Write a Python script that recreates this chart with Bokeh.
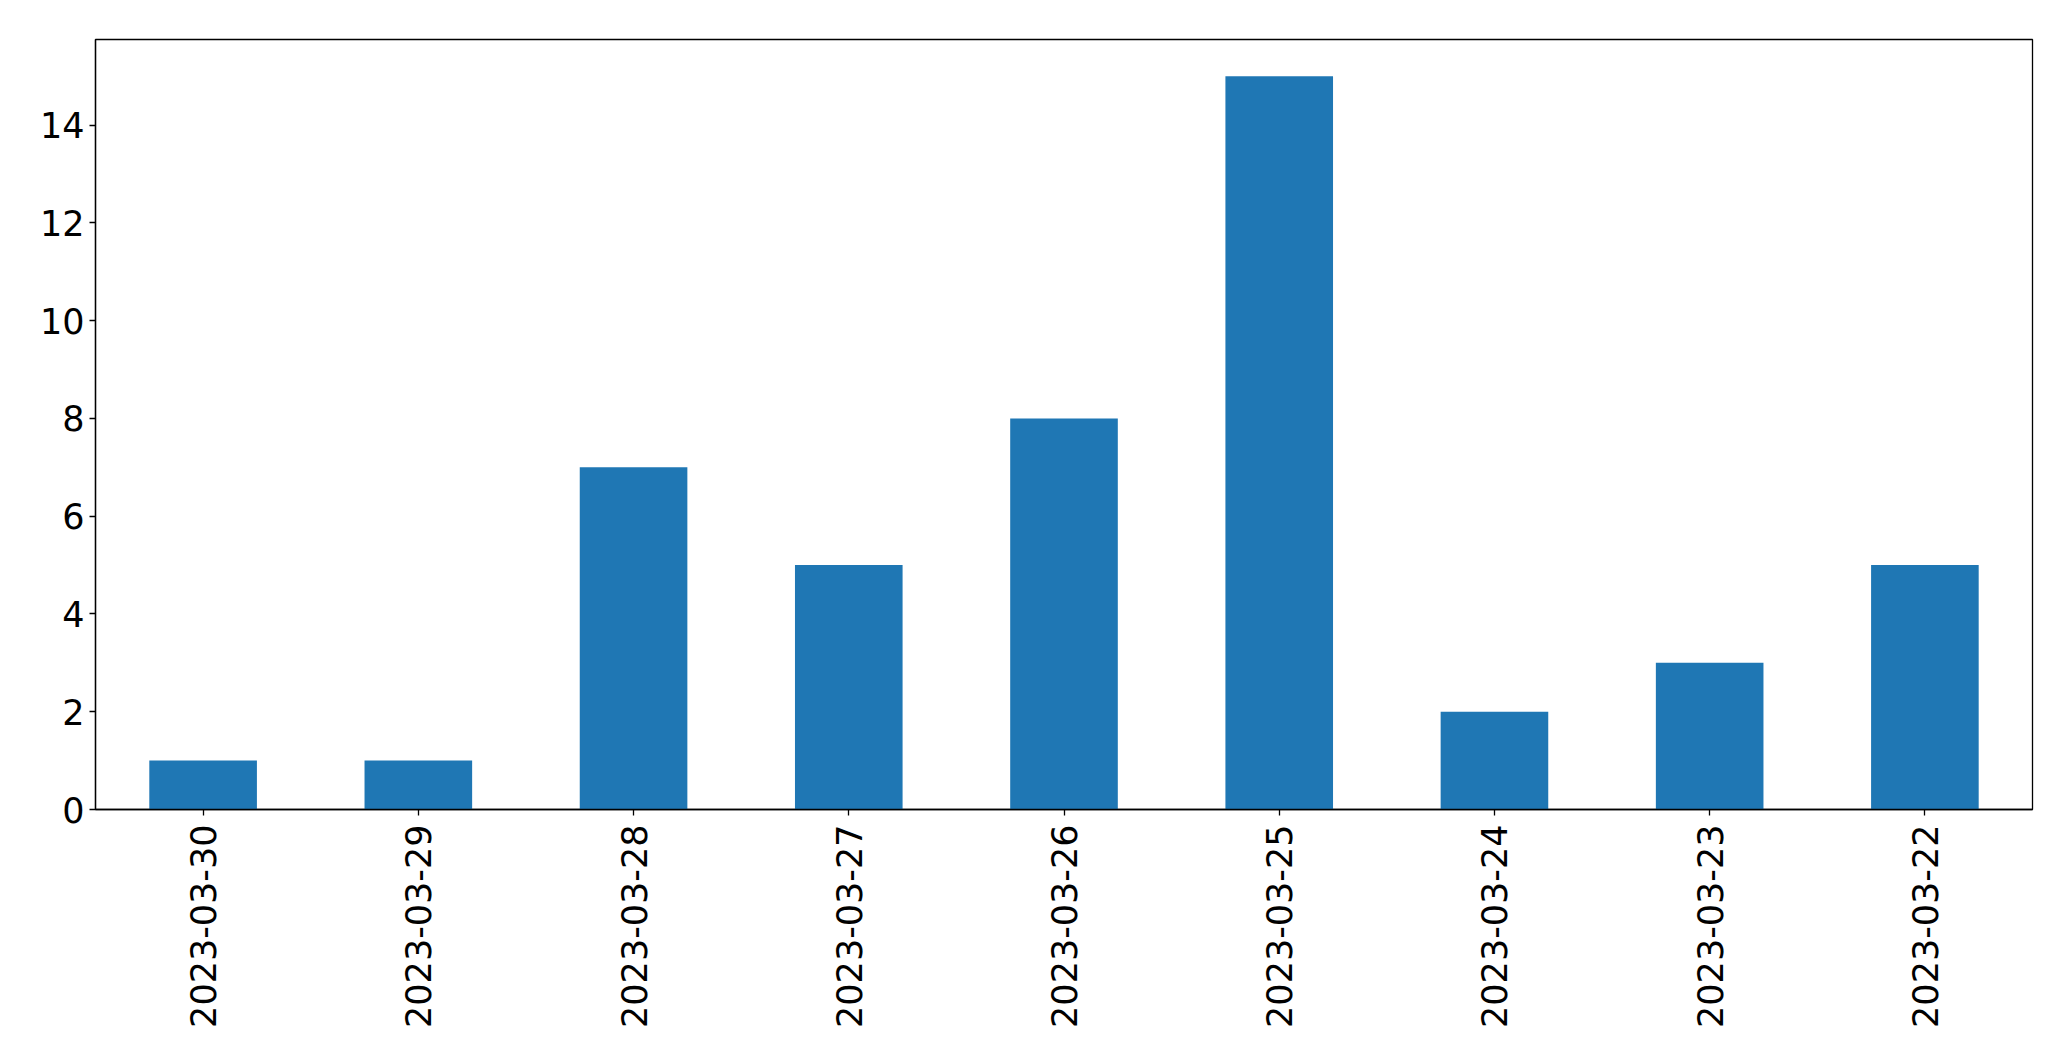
import math
from bokeh.plotting import figure
from bokeh.models import FactorRange, Range1d, FixedTicker
from bokeh.embed import file_html
from bokeh.resources import INLINE

dates = ["2023-03-30", "2023-03-29", "2023-03-28", "2023-03-27", "2023-03-26",
         "2023-03-25", "2023-03-24", "2023-03-23", "2023-03-22"]
counts = [1, 1, 7, 5, 8, 15, 2, 3, 5]
y_ticks = [0, 2, 4, 6, 8, 10, 12, 14]

p = figure(width=2055, height=1045, output_backend="svg", toolbar_location=None,
           x_range=FactorRange(factors=dates, range_padding=0),
           y_range=Range1d(0, 15.75))
p.min_border_left = 95
p.min_border_top = 39
p.min_border_right = 23
p.min_border_bottom = 236

p.vbar(x=dates, top=counts, width=0.5, color="#1f77b4", line_color=None)

p.xgrid.visible = False
p.ygrid.visible = False
p.outline_line_color = "black"
p.outline_line_width = 1.3
p.outline_line_alpha = 1

for ax in (p.xaxis[0], p.yaxis[0]):
    ax.axis_line_color = "black"
    ax.axis_line_width = 1.3
    ax.major_tick_line_color = "black"
    ax.major_tick_line_width = 1.3
    ax.major_tick_out = 6
    ax.major_tick_in = 0
    ax.minor_tick_line_color = None
    ax.major_label_text_font = "DejaVu Sans"
    ax.major_label_text_font_size = "35px"
    ax.major_label_text_color = "black"

p.xaxis.major_label_standoff = 9
p.yaxis.major_label_standoff = 5
p.yaxis.ticker = FixedTicker(ticks=y_ticks)
p.xaxis.major_label_orientation = math.pi / 2

open("out.html", "w").write(file_html(p, INLINE))
